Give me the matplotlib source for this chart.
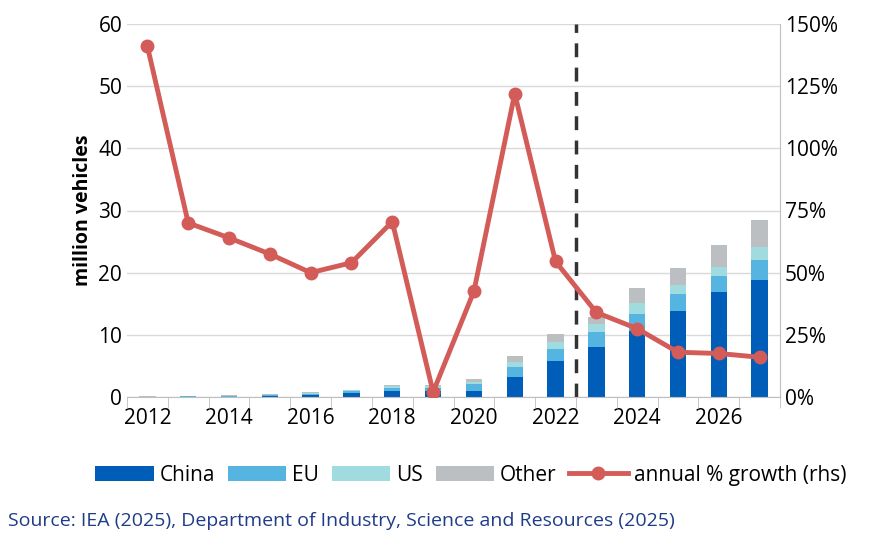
import matplotlib
matplotlib.use("Agg")
import matplotlib.pyplot as plt
import numpy as np

plt.rcParams['font.family'] = ['Open Sans', 'DejaVu Sans']

years = list(range(2012, 2028))
china = [0.03, 0.05, 0.08, 0.15, 0.3, 0.6, 1.0, 1.0, 1.0, 3.2, 5.8, 8.0, 10.6, 13.9, 16.9, 18.9]
eu    = [0.02, 0.05, 0.08, 0.15, 0.2, 0.3, 0.4, 0.5, 1.1, 1.7, 2.0, 2.5, 2.8, 2.7, 2.6, 3.1]
us    = [0.03, 0.05, 0.07, 0.1, 0.15, 0.15, 0.3, 0.2, 0.3, 0.7, 1.0, 1.3, 1.7, 1.4, 1.4, 2.2]
other = [0.02, 0.05, 0.07, 0.1, 0.15, 0.15, 0.3, 0.3, 0.5, 1.0, 1.4, 1.1, 2.4, 2.7, 3.5, 4.2]
growth = [141, 70, 64, 57.5, 50, 54, 70.5, 2, 42.5, 122, 54.5, 34, 27.5, 18, 17.5, 16]

fig = plt.figure(figsize=(8.8, 5.45), dpi=100)
ax = fig.add_axes([127/880, 1-397/545, (780-127)/880, (397-24)/545])
x = np.array(years)
w = 0.4
b = np.zeros(len(years))
cols = ['#005EB8', '#56B4E0', '#A0DBE0', '#BCBFC2']
labels = ['China', 'EU', 'US', 'Other']
for vals, c, l in zip([china, eu, us, other], cols, labels):
    ax.bar(x, vals, w, bottom=b, color=c, label=l, zorder=2)
    b += np.array(vals)
ax.set_ylim(0, 60)
ax.set_xlim(2011.5, 2027.5)
ax.set_yticks(range(0, 61, 10))
ax.set_xticks(range(2012, 2027, 2))
ax.set_xticks(np.arange(2011.5, 2028, 1), minor=True)
ax.tick_params(axis='x', which='major', length=0, labelsize=15, pad=8)
ax.tick_params(axis='x', which='minor', length=8, color='#BFBFBF')
ax.tick_params(axis='y', length=0, labelsize=15)
ax.grid(axis='y', color='#D9D9D9', lw=1, zorder=0)
for s in ['top', 'right', 'left']:
    ax.spines[s].set_visible(False)
ax.spines['bottom'].set_color('#BFBFBF')
ax.set_ylabel('million vehicles', fontsize=14, fontweight='bold')
ax.axvline(2022.5, color='#333333', ls=(0, (4, 3)), lw=2.5, zorder=3)

ax2 = ax.twinx()
ln, = ax2.plot(x, growth, color='#D35B58', lw=3.5, marker='o', ms=9, label='annual % growth (rhs)', zorder=4)
ax2.set_ylim(0, 150)
ax2.set_yticks(range(0, 151, 25))
ax2.set_yticklabels([f'{v}%' for v in range(0, 151, 25)])
ax2.tick_params(axis='y', length=0, labelsize=15)
for s in ['top', 'left', 'bottom']:
    ax2.spines[s].set_visible(False)
ax2.spines['right'].set_color('#BFBFBF')

h, l = ax.get_legend_handles_labels()
fig.legend(h + [ln], l + [ln.get_label()], loc='center', bbox_to_anchor=(0.535, 0.128),
           ncol=5, frameon=False, fontsize=15, handlelength=2.8, columnspacing=0.6, handletextpad=0.3)
fig.text(8/880, 1-521/545, 'Source: IEA (2025), Department of Industry, Science and Resources (2025)',
         fontsize=14, color='#1F3C88', va='center')
fig.savefig('out.png', dpi=100)
